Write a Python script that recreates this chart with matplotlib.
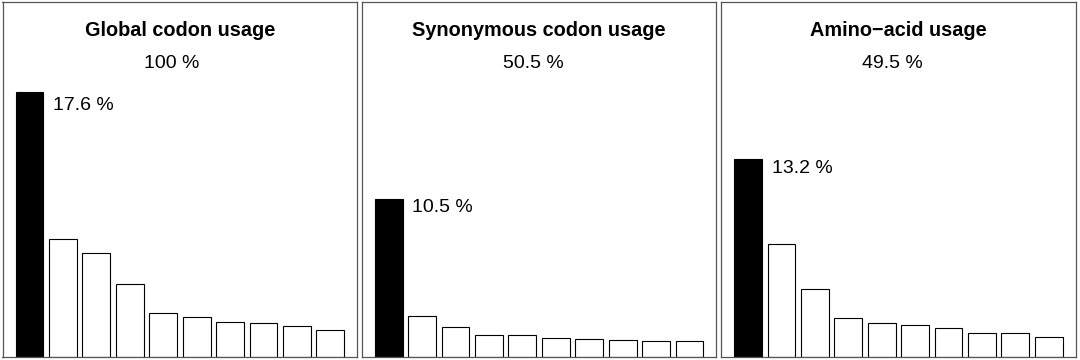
# Valeurs propres (inertie en %) des trois analyses de l'usage des codons
import numpy as np
import matplotlib.pyplot as plt

titres = ['Global codon usage', 'Synonymous codon usage', 'Amino\u2212acid usage']
totaux = ['100 %', '50.5 %', '49.5 %']

# pourcentage d'inertie de chaque axe
global_pct = [17.6, 7.84, 6.9, 4.85, 2.92, 2.66, 2.32, 2.26, 2.06, 1.79]
syno_pct = [10.5, 2.72, 2.0, 1.46, 1.45, 1.31, 1.22, 1.15, 1.06, 1.05]
aa_pct = [13.2, 7.55, 4.56, 2.59, 2.3, 2.17, 1.97, 1.64, 1.64, 1.35]

series = [global_pct, syno_pct, aa_pct]

plt.rcParams['font.family'] = ['Liberation Sans', 'DejaVu Sans']

fig = plt.figure(figsize=(10.8, 3.6), dpi=100)

gauches = [2.5, 361.7, 721.0]
larg = 354.8
bas = 2.7
haut = 355.3
ymax = 23.6

for k in range(3):
    ax = fig.add_axes([gauches[k]/1080, bas/360, larg/1080, haut/360])
    vals = series[k]
    n = len(vals)
    x = np.arange(n)*1.2 + 0.7
    couleurs = ['black'] + ['white']*(n-1)
    ax.bar(x, vals, width=1.0, color=couleurs, edgecolor='black', linewidth=0.8)
    span = 12.0 - 0.2
    ax.set_xlim(0.2 - 0.04*span, 12.0 + 0.04*span)
    ax.set_ylim(0, ymax)
    ax.set_xticks([])
    ax.set_yticks([])
    for s in ax.spines.values():
        s.set_color('#555555')
        s.set_linewidth(0.9)
    ax.text(0.5, 1 - 28/haut, titres[k], transform=ax.transAxes, ha='center', va='center',
            fontsize=14.3, fontweight='bold')
    # le total est cale a gauche, pas centre
    ax.text(141/larg, 1 - 61/haut, totaux[k], transform=ax.transAxes, ha='left', va='center',
            fontsize=14)
    ax.text(x[0] + 0.85, vals[0]*0.95, '%.1f %%' % vals[0], ha='left', va='center',
            fontsize=14)

fig.savefig('out.png', dpi=100)
